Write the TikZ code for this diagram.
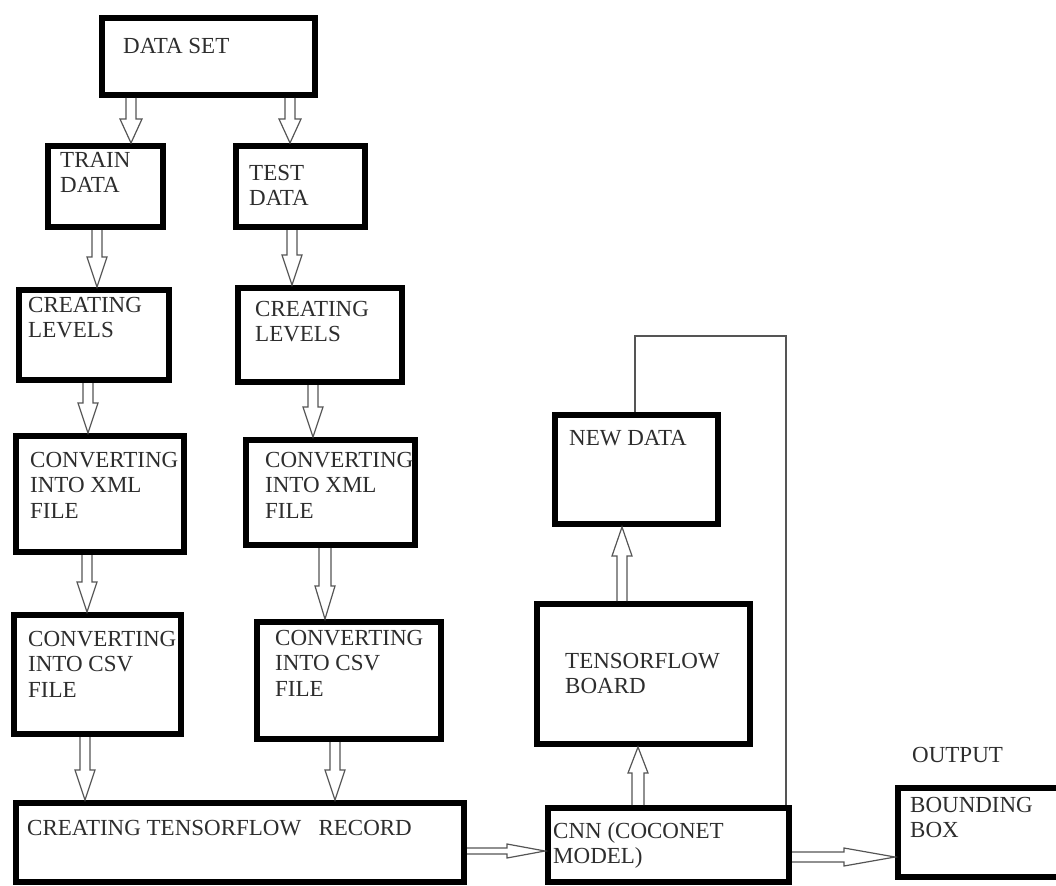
\documentclass[tikz,border=0pt]{standalone}
\usepackage{fontspec}
\setmainfont{Liberation Serif}
\usetikzlibrary{calc}
\definecolor{inkgray}{RGB}{45,45,45}
\definecolor{linegray}{RGB}{85,85,85}
\tikzset{
    stage/.style={draw=black, line width=6pt, anchor=north west, inner sep=0pt},
    caption/.style={anchor=north west, inner sep=0pt, align=left, text=inkgray,
        font=\fontsize{23}{25.5}\selectfont},
    hollow/.style args={#1/#2/#3}{draw=linegray, line width=1.2pt, to path={
        let \p1=(\tikztostart), \p2=(\tikztotarget),
            \n1={atan2(\y2-\y1,\x2-\x1)}, \n2={veclen(\x2-\x1,\y2-\y1)} in
        {[shift={(\p1)}, rotate=\n1] (0,#3) -- (\n2-#1,#3) -- (\n2-#1,#2) -- (\n2,0)
            -- (\n2-#1,-#2) -- (\n2-#1,-#3) -- (0,-#3)}}},
    hollow/.default=30/10/5,
    feed/.style={draw=linegray, line width=1.2pt},
}

\begin{document}
\begin{tikzpicture}[x=1pt, y=-1pt]
    \useasboundingbox (0,0) rectangle (1056,885);
    % boxes
    \node[stage, minimum width=213, minimum height=77] (dataset) at (99,15) {};
    \node[stage, minimum width=115, minimum height=81] (train) at (45,143) {};
    \node[stage, minimum width=129, minimum height=81] (test) at (233,143) {};
    \node[stage, minimum width=150, minimum height=90] (levelsA) at (16,287) {};
    \node[stage, minimum width=164, minimum height=94] (levelsB) at (235,285) {};
    \node[stage, minimum width=168, minimum height=116] (xmlA) at (13,433) {};
    \node[stage, minimum width=169, minimum height=105] (xmlB) at (243,437) {};
    \node[stage, minimum width=167, minimum height=119] (csvA) at (11,612) {};
    \node[stage, minimum width=184, minimum height=117] (csvB) at (254,619) {};
    \node[stage, minimum width=448, minimum height=79] (record) at (13,800) {};
    \node[stage, minimum width=241, minimum height=74] (cnn) at (545,805) {};
    \node[stage, minimum width=213, minimum height=140] (board) at (534,601) {};
    \node[stage, minimum width=163, minimum height=109] (newdata) at (552,412) {};
    \node[stage, minimum width=161, minimum height=89] (bbox) at (895,785) {};
    % texts
    \node[caption] (tdataset) at (123,38) {DATA SET};
    \node[caption] (ttrain) at (60,152) {TRAIN\\DATA};
    \node[caption] (ttest) at (249,165) {TEST\\DATA};
    \node[caption] (tlevelsA) at (28,297) {CREATING\\LEVELS};
    \node[caption] (tlevelsB) at (255,301) {CREATING\\LEVELS};
    \node[caption] (txmlA) at (30,452) {CONVERTING\\INTO XML\\FILE};
    \node[caption] (txmlB) at (265,452) {CONVERTING\\INTO XML\\FILE};
    \node[caption] (tcsvA) at (28,631) {CONVERTING\\INTO CSV\\FILE};
    \node[caption] (tcsvB) at (275,630) {CONVERTING\\INTO CSV\\FILE};
    \node[caption] (trecord) at (27,820) {CREATING TENSORFLOW\ \ \ RECORD};
    \node[caption] (tcnn) at (553,822) {CNN (COCONET\\MODEL)};
    \node[caption] (tboard) at (565,653) {TENSORFLOW\\BOARD};
    \node[caption] (tnewdata) at (569,430) {NEW DATA};
    \node[caption] (toutput) at (912,747) {OUTPUT};
    \node[caption] (tbbox) at (910,797) {BOUNDING\\BOX};
    % arrows
    \draw[hollow=24/11/5] (dataset.south -| 131,0) to (train.north -| 131,0);
    \draw[hollow=24/11/5] (dataset.south -| 290,0) to (test.north -| 290,0);
    \draw[hollow] (train.south -| 97,0) to (levelsA.north -| 97,0);
    \draw[hollow] (test.south -| 292,0) to (levelsB.north -| 292,0);
    \draw[hollow] (levelsA.south -| 88,0) to (xmlA.north -| 88,0);
    \draw[hollow] (levelsB.south -| 313,0) to (xmlB.north -| 313,0);
    \draw[hollow] (xmlA.south -| 87,0) to (csvA.north -| 87,0);
    \draw[hollow=33/10/6] (xmlB.south -| 325,0) to (csvB.north -| 325,0);
    \draw[hollow] (csvA.south -| 85,0) to (record.north -| 85,0);
    \draw[hollow] (csvB.south -| 335,0) to (record.north -| 335,0);
    \draw[hollow=38/7/3] (record.east |- 0,851) to (cnn.west |- 0,851);
    \draw[hollow=26/10/6] (cnn.north -| 638,0) to (board.south -| 638,0);
    \draw[hollow=29/10/5] (board.north -| 622,0) to (newdata.south -| 622,0);
    \draw[hollow=51/9/5] (cnn.east |- 0,857) to (bbox.west |- 0,857);
    % loop back
    \coordinate (turn) at (786,336);
    \draw[feed] (newdata.north -| 635,0) |- (turn) -- (cnn.north -| 786,0);
\end{tikzpicture}
\end{document}
